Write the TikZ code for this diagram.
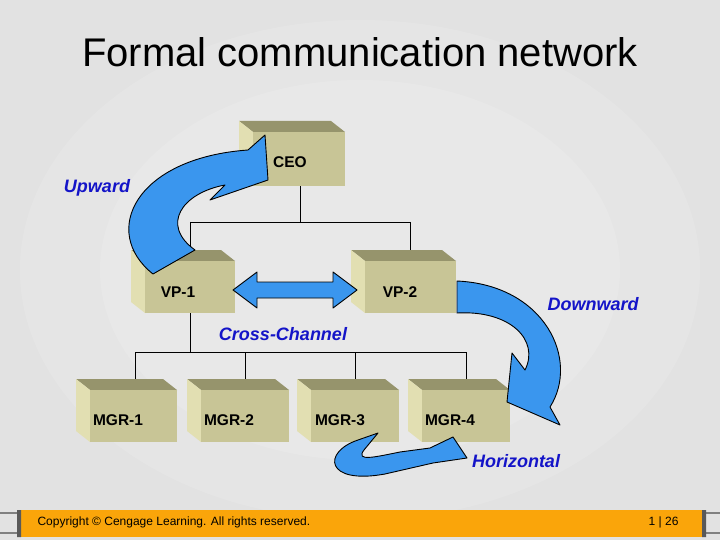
\documentclass[tikz,border=0pt]{standalone}
\usepackage{fontspec}
\setmainfont{Liberation Sans}
\begin{document}
\begin{tikzpicture}[x=1pt,y=-1pt,
  front/.style={fill=boxfront,draw=none,anchor=north west,inner sep=0pt},
  topf/.style={fill=boxtop},
  leftf/.style={fill=boxleft},
  btxt/.style={font=\bfseries\fontsize{15.5}{17}\selectfont},
  conn/.style={draw=black,line width=0.7pt},
  barrow/.style={fill=arrowblue,draw=black,line width=0.9pt,line join=round},
  lab/.style={font=\bfseries\itshape\fontsize{18}{20}\selectfont,text=labblue}]
\definecolor{boxfront}{RGB}{200,197,150}
\definecolor{boxtop}{RGB}{150,148,108}
\definecolor{boxleft}{RGB}{226,223,178}
\definecolor{arrowblue}{RGB}{58,150,238}
\definecolor{labblue}{RGB}{20,20,200}
\definecolor{bgc}{RGB}{226,226,226}
\definecolor{foot}{RGB}{250,165,10}
\useasboundingbox (0,0) rectangle (720,540);
\fill[bgc] (0,0) rectangle (720,540);
\fill[white,opacity=0.12] (360,270) ellipse (340 and 250);
\fill[white,opacity=0.12] (360,270) ellipse (260 and 190);
\node[font=\fontsize{40}{44}\selectfont] (title) at (360,52) {Formal communication network};
\newcommand\drawcube[5]{%
  \fill[boxtop] (#2-14,#3-11) -- (#2+#4-14,#3-11) -- (#2+#4,#3) -- (#2,#3) -- cycle;
  \fill[boxleft] (#2-14,#3-11) -- (#2,#3) -- (#2,#3+#5) -- (#2-14,#3+#5-11) -- cycle;
  \node[front,minimum width=#4pt,minimum height=#5pt] (#1) at (#2,#3) {};
}
\drawcube{ceo}{253}{132}{92}{54}
\drawcube{vp1}{145}{261}{90}{52}
\drawcube{vp2}{365}{261}{91}{52}
\drawcube{m1}{90}{390}{87}{52}
\drawcube{m2}{201}{390}{88}{52}
\drawcube{m3}{311}{390}{88}{52}
\drawcube{m4}{422}{390}{88}{52}
\node[btxt] (ceot) at (290,162) {CEO};
\node[btxt] (vp1t) at (178,292) {VP-1};
\node[btxt] (vp2t) at (400,292) {VP-2};
\node[btxt] (m1t) at (118,420) {MGR-1};
\node[btxt] (m2t) at (229,420) {MGR-2};
\node[btxt] (m3t) at (340,420) {MGR-3};
\node[btxt] (m4t) at (450,420) {MGR-4};
% tree connectors
\coordinate (j1) at (300,222);
\coordinate (j1l) at (190,222);
\coordinate (j1r) at (410,222);
\coordinate (vp1top) at (190,250);
\coordinate (vp2top) at (410,250);
\draw[conn] (ceo.south -| j1) -- (j1);
\draw[conn] (j1l) -- (j1r);
\draw[conn] (j1l) -- (vp1top);
\draw[conn] (j1r) -- (vp2top);
\coordinate (j2) at (190,352);
\coordinate (j2a) at (135,352);
\coordinate (j2d) at (466,352);
\draw[conn] (vp1.south -| j2) -- (j2);
\draw[conn] (j2a) -- (j2d);
\foreach \x in {135,245,355,466} {\draw[conn] (\x,352) -- (\x,379);}
% double arrow
\draw[barrow] (233,290) -- (257,272) -- (257,282) -- (333,282) -- (333,272) -- (357,290)
  -- (333,308) -- (333,298) -- (257,298) -- (257,308) -- cycle;
% upward arrow
\draw[barrow] (153,274) .. controls (100,232) and (135,158) .. (248,150) -- (265,135)
  -- (268,180) -- (210,200) -- (225,185) .. controls (182,193) and (160,225) .. (195,250) -- cycle;
% downward arrow
\draw[barrow] (457,281) .. controls (545,285) and (580,360) .. (550,407) -- (560,425)
  -- (507,402) -- (512,353) -- (525,370) .. controls (540,340) and (510,310) .. (457,313) -- cycle;
% horizontal arrow
\draw[barrow] (378,433) -- (358,440) .. controls (322,452) and (325,485) .. (385,474)
  -- (433,463) -- (467,458) -- (453,437) -- (430,448) -- (400,452)
  .. controls (375,457) and (355,462) .. (364,450) -- cycle;
\node[lab] (up) at (97,188) {Upward};
\node[lab] (down) at (593,304) {Downward};
\node[lab] (cross) at (283,334) {Cross-Channel};
\node[lab] (hor) at (516,461) {Horizontal};
% footer
\fill[foot] (18,510) rectangle (705,537);
\draw[gray,line width=1.2pt] (0,513) -- (20,513) (0,533) -- (20,533) (703,513) -- (720,513) (703,533) -- (720,533);
\fill[gray!70!black] (17,510) rectangle (21,537) (702,510) rectangle (706,537);
\node[anchor=west,font=\fontsize{12}{14}\selectfont] (copy) at (34,522) {Copyright © Cengage Learning. All rights reserved.};
\node[anchor=east,font=\fontsize{12}{14}\selectfont] (pg) at (682,522) {1 | 26};
\end{tikzpicture}
\end{document}
